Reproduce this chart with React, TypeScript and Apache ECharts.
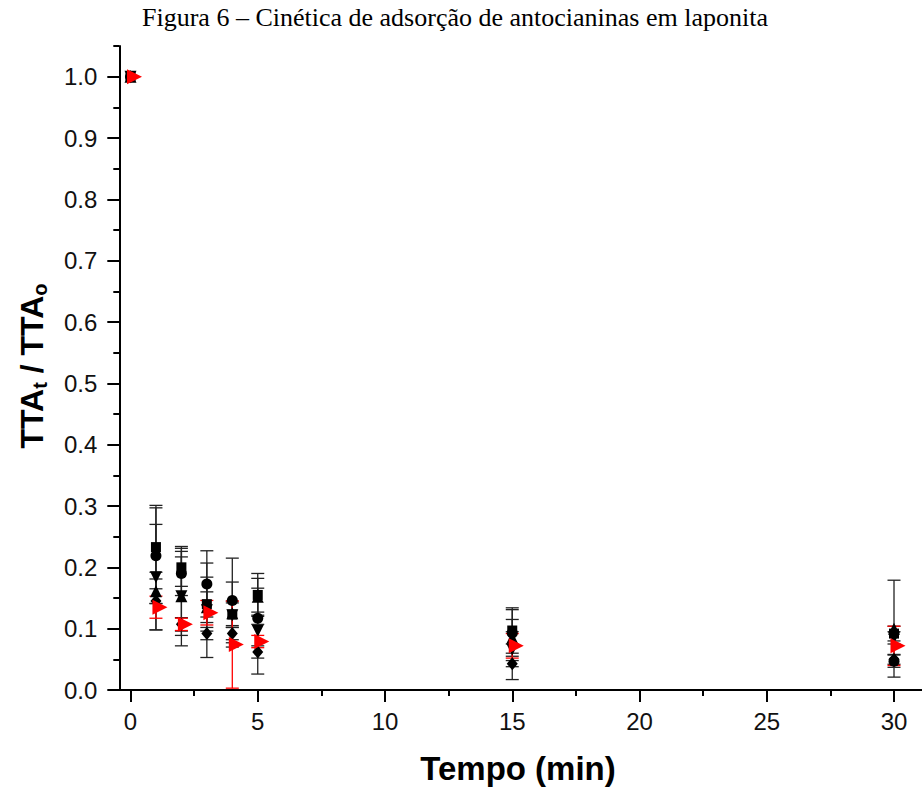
import React, { useEffect, useRef } from "react";
import * as echarts from "echarts";

// Time points (min)
const times = [0, 1, 2, 3, 4, 5, 15, 30];

// Series values (TTAt / TTAo) and their error half-widths
const squareVals = [1.0, 0.233, 0.2, 0.14, 0.123, 0.155, 0.097, 0.092];
const squareErr = [0, 0.068, 0.031, 0.044, 0.053, 0.035, 0.037, 0.012];
const circleVals = [1.0, 0.219, 0.19, 0.173, 0.146, 0.117, 0.093, 0.047];
const circleErr = [0, 0.078, 0.036, 0.054, 0.069, 0.01, 0.038, 0.01];
const triUpVals = [1.0, 0.161, 0.153, 0.135, 0.125, 0.152, 0.085, 0.1];
const triUpErr = [0, 0.02, 0.081, 0.025, 0.02, 0.03, 0.01, 0.079];
const triDownVals = [1.0, 0.184, 0.153, 0.13, 0.122, 0.096, 0.066, 0.085];
const triDownErr = [0, 0.086, 0.064, 0.077, 0.02, 0.07, 0.049, 0.01];
const diamondVals = [1.0, 0.145, 0.107, 0.092, 0.092, 0.062, 0.043, 0.05];
const diamondErr = [0, 0.047, 0.011, 0.01, 0.01, 0.01, 0.005, 0.008];
const redVals = [1.0, 0.135, 0.107, 0.126, 0.074, 0.079, 0.072, 0.072];
const redErr = [0, 0.018, 0.01, 0.02, 0.071, 0.01, 0.02, 0.032];

// Tick values
const xMajor = [0, 5, 10, 15, 20, 25, 30];
const xMinor = [2.5, 7.5, 12.5, 17.5, 22.5, 27.5];
const yMajor = [0, 0.1, 0.2, 0.3, 0.4, 0.5, 0.6, 0.7, 0.8, 0.9, 1.0];
const yMinor = [0.05, 0.15, 0.25, 0.35, 0.45, 0.55, 0.65, 0.75, 0.85, 0.95, 1.05];

const titleText = "Figura 6 – Cinética de adsorção de antocianinas em laponita";
const xName = "Tempo (min)";

const SANS = "'Liberation Sans', Arial, sans-serif";
const SERIF = "'Liberation Serif', 'Times New Roman', serif";

function pts(vals: number[]) {
  return times.map((t, i) => [t, vals[i]]);
}
function errs(vals: number[], e: number[]) {
  return times
    .map((t, i) => [t, vals[i] - e[i], vals[i] + e[i]])
    .filter((_, i) => e[i] > 0);
}

function errorSeries(vals: number[], e: number[], color: string, z: number) {
  return {
    type: "custom",
    xAxisIndex: 0,
    yAxisIndex: 0,
    z,
    silent: true,
    data: errs(vals, e),
    encode: { x: 0, y: [1, 2] },
    renderItem: (params: any, api: any) => {
      const x = api.value(0);
      const lo = api.coord([x, api.value(1)]);
      const hi = api.coord([x, api.value(2)]);
      const hw = 6.5;
      const style = { stroke: color, lineWidth: 1.3 };
      return {
        type: "group",
        children: [
          { type: "line", shape: { x1: hi[0], y1: hi[1], x2: lo[0], y2: lo[1] }, style },
          { type: "line", shape: { x1: hi[0] - hw, y1: hi[1], x2: hi[0] + hw, y2: hi[1] }, style },
          { type: "line", shape: { x1: lo[0] - hw, y1: lo[1], x2: lo[0] + hw, y2: lo[1] }, style },
        ],
      };
    },
  };
}

function scatter(vals: number[], symbol: string, size: number | number[], color: string, z: number, rotate = 0, offset = [0, 0]) {
  return {
    type: "scatter",
    xAxisIndex: 0,
    yAxisIndex: 0,
    z,
    symbol,
    symbolSize: size,
    symbolRotate: rotate,
    symbolOffset: offset,
    itemStyle: { color, opacity: 1 },
    data: pts(vals),
  };
}

export default function App() {
  const ref = useRef<HTMLDivElement>(null);
  useEffect(() => {
    if (!ref.current) return;
    const chart = echarts.init(ref.current, null, { renderer: "svg" });
    const axisLineStyle = { color: "#000", width: 2 };
    const xmin = -0.44;
    const xmax = 31.1;
    const option: any = {
      animation: false,
      backgroundColor: "#fff",
      grid: { left: 119.3, top: 46, width: 813.7, height: 644, containLabel: false },
      xAxis: [
        {
          type: "value",
          gridIndex: 0,
          position: "bottom",
          min: xmin,
          max: xmax,
          axisLine: { show: true, onZero: false, lineStyle: axisLineStyle },
          axisTick: { show: true, customValues: xMajor, length: 12, lineStyle: axisLineStyle },
          axisLabel: { customValues: xMajor, fontSize: 24, color: "#111", fontFamily: SANS, margin: 19 },
          splitLine: { show: false },
        },
        {
          type: "value",
          gridIndex: 0,
          position: "bottom",
          min: xmin,
          max: xmax,
          axisLine: { show: false, onZero: false },
          axisTick: { show: true, customValues: xMinor, length: 6, lineStyle: axisLineStyle },
          axisLabel: { show: false },
          splitLine: { show: false },
        },
      ],
      yAxis: [
        {
          type: "value",
          gridIndex: 0,
          position: "left",
          min: 0,
          max: 1.05,
          axisLine: { show: true, onZero: false, lineStyle: axisLineStyle },
          axisTick: { show: true, customValues: yMajor, length: 12, lineStyle: axisLineStyle },
          axisLabel: {
            customValues: yMajor,
            fontSize: 24,
            color: "#111",
            fontFamily: SANS,
            margin: 22,
            formatter: (v: number) => v.toFixed(1),
          },
          splitLine: { show: false },
        },
        {
          type: "value",
          gridIndex: 0,
          position: "left",
          min: 0,
          max: 1.05,
          axisLine: { show: false, onZero: false },
          axisTick: { show: true, customValues: yMinor, length: 6, lineStyle: axisLineStyle },
          axisLabel: { show: false },
          splitLine: { show: false },
        },
      ],
      graphic: [
        {
          type: "text",
          x: 455,
          y: 17,
          style: {
            text: titleText,
            font: `26px ${SERIF}`,
            fill: "#000",
            textAlign: "center",
            textVerticalAlign: "middle",
          },
        },
        {
          type: "text",
          x: 518,
          y: 768,
          style: {
            text: xName,
            font: `bold 33px ${SANS}`,
            fill: "#000",
            textAlign: "center",
            textVerticalAlign: "middle",
          },
        },
        {
          type: "text",
          x: 33,
          y: 366,
          rotation: Math.PI / 2,
          style: {
            text: "{m|TTA}{s|t}{m| / TTA}{s|o}",
            fill: "#000",
            textAlign: "center",
            textVerticalAlign: "middle",
            rich: {
              m: { fontFamily: SANS, fontWeight: "bold", fontSize: 32, lineHeight: 34, verticalAlign: "top" },
              s: { fontFamily: SANS, fontWeight: "bold", fontSize: 20, lineHeight: 20, verticalAlign: "bottom", padding: [20, 0, 0, 0] },
            },
          },
        },
      ],
      series: [
        errorSeries(squareVals, squareErr, "#222", 2),
        errorSeries(circleVals, circleErr, "#222", 2),
        errorSeries(triUpVals, triUpErr, "#222", 2),
        errorSeries(triDownVals, triDownErr, "#222", 2),
        errorSeries(diamondVals, diamondErr, "#222", 2),
        errorSeries(redVals, redErr, "#ff0000", 3),
        scatter(squareVals, "rect", 10, "#000", 5),
        scatter(circleVals, "circle", 11, "#000", 5),
        scatter(triUpVals, "triangle", 12, "#000", 5),
        scatter(triDownVals, "triangle", 12, "#000", 5, 180),
        scatter(diamondVals, "diamond", [11, 13], "#000", 5),
        scatter(redVals, "triangle", 15, "#ff0000", 6, -90, [4, 0]),
      ],
    };
    chart.setOption(option);
    return () => chart.dispose();
  }, []);
  return (
    <div
      ref={ref}
      style={{ position: "fixed", left: 0, top: 0, width: 922, height: 791, background: "#fff" }}
    />
  );
}
